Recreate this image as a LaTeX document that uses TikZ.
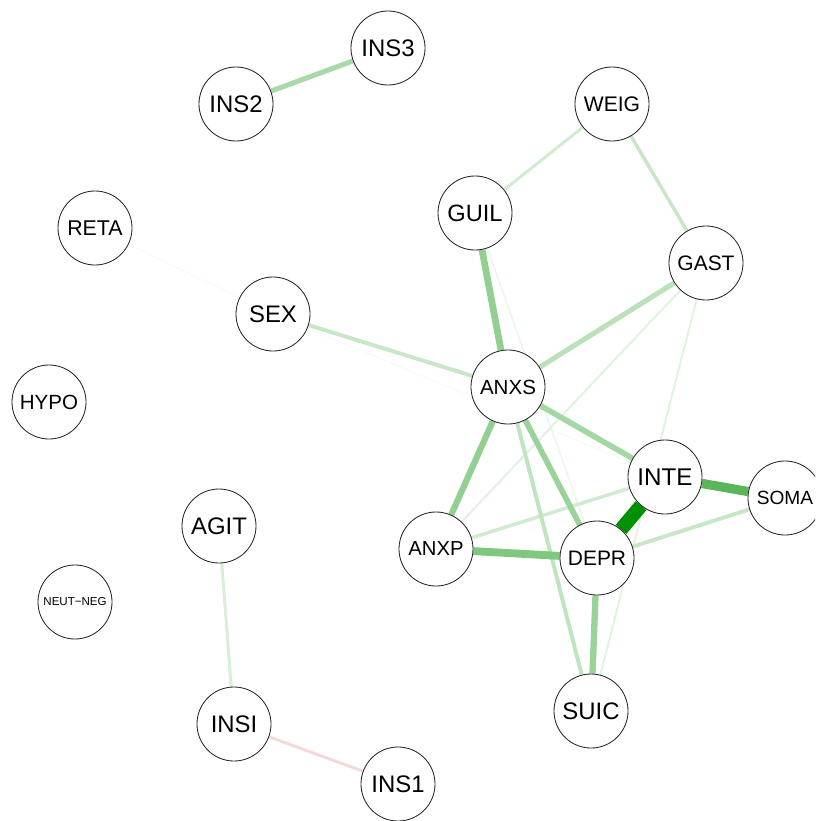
\documentclass[tikz,border=0pt]{standalone}
\usepackage{fontspec}
\setmainfont{Liberation Sans}
\usetikzlibrary{backgrounds}

\definecolor{qgreen}{RGB}{0,145,0}
\definecolor{qred}{RGB}{200,40,40}

\tikzset{
  var/.style={circle,draw=black!85,line width=0.6pt,fill=white,
    minimum size=1.85cm,inner sep=0pt,font=\fontsize{17}{17}\selectfont},
  fs/.style={font=\fontsize{#1}{#1}\selectfont},
  conn/.style 2 args={draw=qgreen!#1!white,line width=#2},
  negconn/.style 2 args={draw=qred!#1!white,line width=#2},
}

\begin{document}
\begin{tikzpicture}[x=0.025cm,y=-0.025cm]
\useasboundingbox (0,0) rectangle (815,821);
\clip (0,0) rectangle (815,821);

% variables
\node[var] (ins3) at (388,48) {INS3};
\node[var] (ins2) at (236,104) {INS2};
\node[var,fs=15] (weig) at (612,104) {WEIG};
\node[var,fs=15.2] (reta) at (95,228) {RETA};
\node[var,fs=16.8] (guil) at (475,213) {GUIL};
\node[var,fs=14.9] (gast) at (706,263) {GAST};
\node[var] (sex) at (273,314) {SEX};
\node[var,fs=14.6] (anxs) at (508,387) {ANXS};
\node[var,fs=14.6] (hypo) at (49,402) {HYPO};
\node[var,fs=17.2] (inte) at (665,477) {INTE};
\node[var,fs=13.6] (soma) at (785,498) {SOMA};
\node[var] (agit) at (219,526) {AGIT};
\node[var,fs=14.4] (anxp) at (436,549) {ANXP};
\node[var,fs=14.9] (depr) at (597,558) {DEPR};
\node[var,fs=8.2] (neutneg) at (75,602) {NEUT−NEG};
\node[var] (suic) at (591,711) {SUIC};
\node[var] (insi) at (234,724) {INSI};
\node[var] (ins1) at (398,784) {INS1};

% connections, weakest first
\begin{scope}[on background layer]
\path
  (reta) edge[draw=black!3,line width=0.5pt] (sex)
  (sex) edge[conn={4}{0.7pt}] (inte)
  (guil) edge[conn={8}{1.1pt}] (depr)
  (gast) edge[conn={12}{1.4pt}] (anxp)
  (gast) edge[conn={12}{1.4pt}] (suic)
  (insi) edge[negconn={18}{2.1pt}] (ins1)
  (agit) edge[conn={15}{2.1pt}] (insi)
  (weig) edge[conn={18}{2.1pt}] (guil)
  (anxp) edge[conn={18}{2.5pt}] (inte)
  (weig) edge[conn={22}{2.5pt}] (gast)
  (soma) edge[conn={22}{2.8pt}] (depr)
  (sex) edge[conn={22}{2.8pt}] (anxs)
  (anxs) edge[conn={25}{2.8pt}] (suic)
  (gast) edge[conn={27}{3.6pt}] (anxs)
  (ins2) edge[conn={34}{3.6pt}] (ins3)
  (anxs) edge[conn={36}{4pt}] (inte)
  (anxs) edge[conn={40}{4pt}] (depr)
  (depr) edge[conn={40}{4.5pt}] (suic)
  (anxs) edge[conn={43}{4.4pt}] (anxp)
  (guil) edge[conn={43}{4.8pt}] (anxs)
  (anxp) edge[conn={50}{5.6pt}] (depr)
  (inte) edge[conn={65}{6.6pt}] (soma)
  (inte) edge[conn={100}{10pt}] (depr);
\end{scope}
\end{tikzpicture}
\end{document}
